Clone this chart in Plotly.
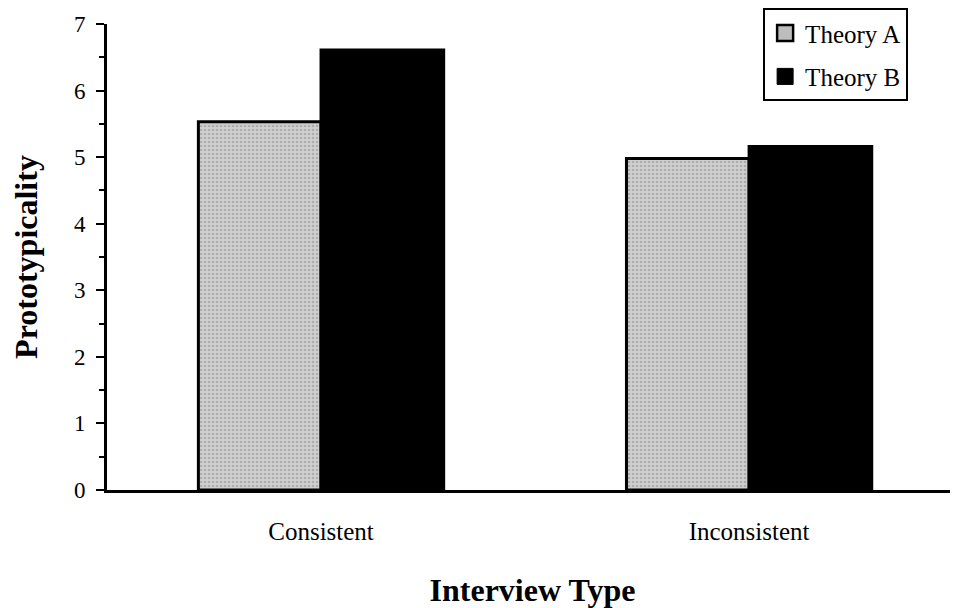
import plotly.graph_objects as go

categories = ["Consistent", "Inconsistent"]
series_names = ["Theory A", "Theory B"]
theory_a = [5.53, 4.98]
theory_b = [6.61, 5.16]
y_ticks = [0, 1, 2, 3, 4, 5, 6, 7]

FONT = "Liberation Serif, Times New Roman, serif"
GRAY = "#d0d0d0"

fig = go.Figure()
fig.add_trace(go.Bar(
    name=series_names[0], x=categories, y=theory_a, showlegend=False,
    marker=dict(color=GRAY, line=dict(color="black", width=3),
                pattern=dict(shape=".", fgcolor="#8a8a8a", size=4, solidity=0.35)),
))
fig.add_trace(go.Bar(
    name=series_names[1], x=categories, y=theory_b, showlegend=False,
    marker=dict(color="black", line=dict(color="black", width=3)),
))
# legend entries (legend-only proxies with larger square symbols)
fig.add_trace(go.Scatter(
    name=series_names[0], x=[None], y=[None], mode="markers", legendgroup="a",
    marker=dict(symbol="square", size=16, color="#bdbdbd", line=dict(color="black", width=2.5)),
))
fig.add_trace(go.Scatter(
    name=series_names[1], x=[None], y=[None], mode="markers", legendgroup="b",
    marker=dict(symbol="square", size=17, color="black", line=dict(color="black", width=1)),
))

fig.update_layout(
    width=950, height=600,
    margin=dict(l=99, r=0, t=16, b=118),
    paper_bgcolor="white", plot_bgcolor="white",
    barmode="group", bargap=0.427, bargroupgap=0,
    font=dict(family=FONT, size=23, color="black"),
    showlegend=True,
    legend=dict(x=0.771, y=1.034, xanchor="left", yanchor="top",
                bordercolor="black", borderwidth=2, bgcolor="white",
                font=dict(family=FONT, size=25), traceorder="grouped",
                itemwidth=30, tracegroupgap=8),
    xaxis=dict(range=[-0.5, 1.488], showline=True, linecolor="black", linewidth=3,
               ticks="", showgrid=False, ticklabelstandoff=17,
               tickfont=dict(family=FONT, size=25),
               title=dict(text="<b>Interview Type</b>", font=dict(family=FONT, size=32), standoff=38)),
    yaxis=dict(range=[0, 7], tickvals=y_ticks, showline=True, linecolor="black", linewidth=3,
               ticks="outside", ticklen=8, tickwidth=2, tickcolor="black", showgrid=False,
               zeroline=False, tickfont=dict(family=FONT, size=23), ticklabelstandoff=6,
               minor=dict(dtick=0.5, ticks="outside", ticklen=5, tickwidth=1.5, tickcolor="black"),
               title=dict(text="<b>Prototypicality</b>", font=dict(family=FONT, size=32), standoff=30)),
)

fig.write_html("out.html")
